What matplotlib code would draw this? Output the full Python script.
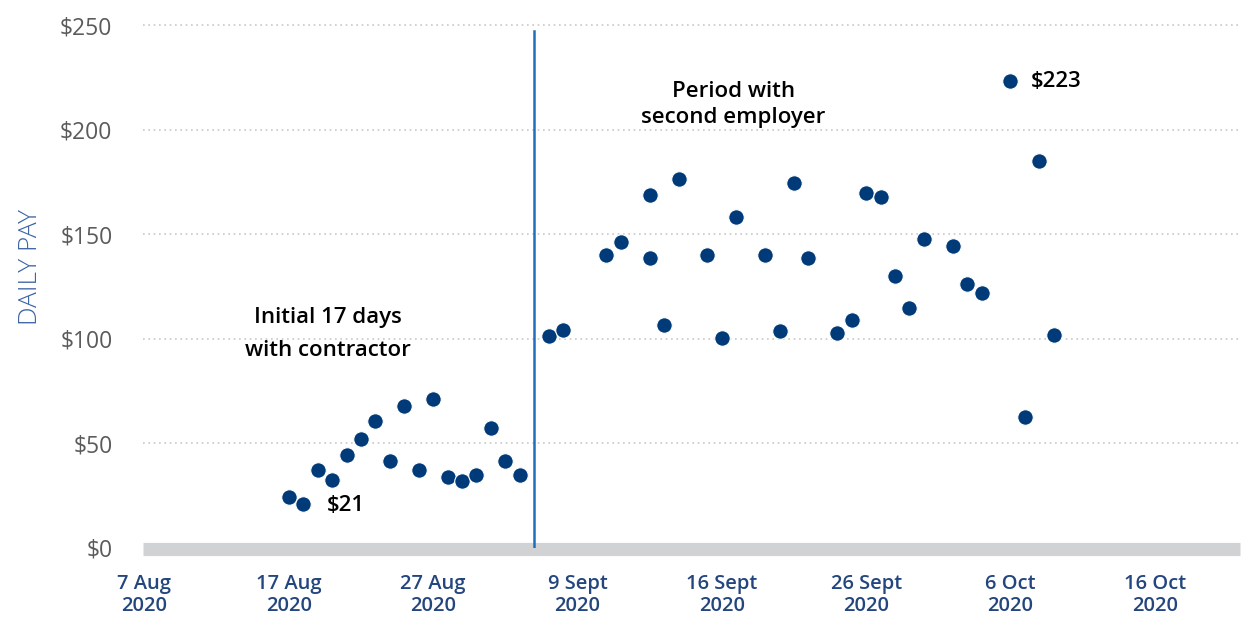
import matplotlib.pyplot as plt

# day index (0 = 7 Aug 2020) and daily pay
contractor_days = [10, 11, 12, 13, 14, 15, 16, 17, 18, 19, 20, 21, 22, 23, 24, 25, 26]
contractor_pay = [24.5, 21, 37.5, 32.7, 44.4, 51.9, 60.8, 41.4, 67.8, 37.5, 71.3, 33.7, 32.2, 35.1, 57.6, 41.4, 35.1]

employer_days = [28, 29, 32, 33, 35, 35, 36, 37, 39, 40, 41, 43, 44, 45, 46, 48, 49, 50,
                 51, 52, 53, 54, 56, 57, 58, 60, 61, 62, 63]
employer_pay = [101.4, 104.3, 140.1, 146.1, 168.8, 138.4, 106.7, 176.3, 140.1, 100.3, 158.1,
                140.1, 103.6, 174.4, 138.4, 102.8, 108.9, 169.6, 167.8, 130.1, 114.9, 147.5,
                144.5, 126.3, 121.8, 223, 62.6, 185.2, 102]

tick_pos = [0, 10, 20, 30, 40, 50, 60, 70]
tick_labels = ['7 Aug\n2020', '17 Aug\n2020', '27 Aug\n2020', '9 Sept\n2020',
               '16 Sept\n2020', '26 Sept\n2020', '6 Oct\n2020', '16 Oct\n2020']
y_ticks = [0, 50, 100, 150, 200, 250]

dot_color = '#003a78'

fig = plt.figure(figsize=(12.49, 6.19), dpi=100)
ax = fig.add_axes([143 / 1249, 71 / 619, 1097 / 1249, 523 / 619])
ax.set_xlim(-0.1, 75.9)
ax.set_ylim(0, 250)

for y in y_ticks[1:]:
    ax.axhline(y, color='#c8c8c8', linestyle=(0, (1, 2.2)), linewidth=1.2, clip_on=False, zorder=1)
ax.axhline(-0.5, color='#d1d2d4', linewidth=9.5, solid_capstyle='butt', clip_on=False, zorder=1)

ax.plot([27, 27], [0, 247], color='#1f6fc0', linewidth=1.8, zorder=2)

ax.scatter(contractor_days, contractor_pay, s=125, color=dot_color, edgecolor='white',
           linewidth=0.8, zorder=3, clip_on=False)
ax.scatter(employer_days, employer_pay, s=125, color=dot_color, edgecolor='white',
           linewidth=0.8, zorder=3, clip_on=False)

ann = dict(fontsize=16, color='black', family='Open Sans', fontweight='semibold')
ax.text(12.6, 20.5, '$21', ha='left', va='center', **ann)
ax.text(61.4, 223, '$223', ha='left', va='center', **ann)
ax.text(12.7, 102.3, 'Initial 17 days\nwith contractor', ha='center', va='center',
        linespacing=1.7, **ann)
ax.text(40.8, 212, 'Period with\nsecond employer', ha='center', va='center',
        linespacing=1.3, **ann)

ax.set_yticks(y_ticks)
ax.set_yticklabels(['$' + str(v) for v in y_ticks], fontsize=16.5, color='#5b5b5b', family='Open Sans')
ax.set_xticks(tick_pos)
ax.set_xticklabels(tick_labels, fontsize=14.5, color='#24467f', family='Open Sans',
                   fontweight='semibold', linespacing=1.1)
ax.tick_params(axis='y', length=0, pad=22)
ax.tick_params(axis='x', length=0, pad=19)
ax.set_ylabel('DAILY PAY', fontsize=19, color='#3b64a6', family='Open Sans', fontweight='light')
ax.yaxis.set_label_coords(-0.091, 0.537)

for s in ax.spines.values():
    s.set_visible(False)

plt.savefig('out.png', dpi=100)
